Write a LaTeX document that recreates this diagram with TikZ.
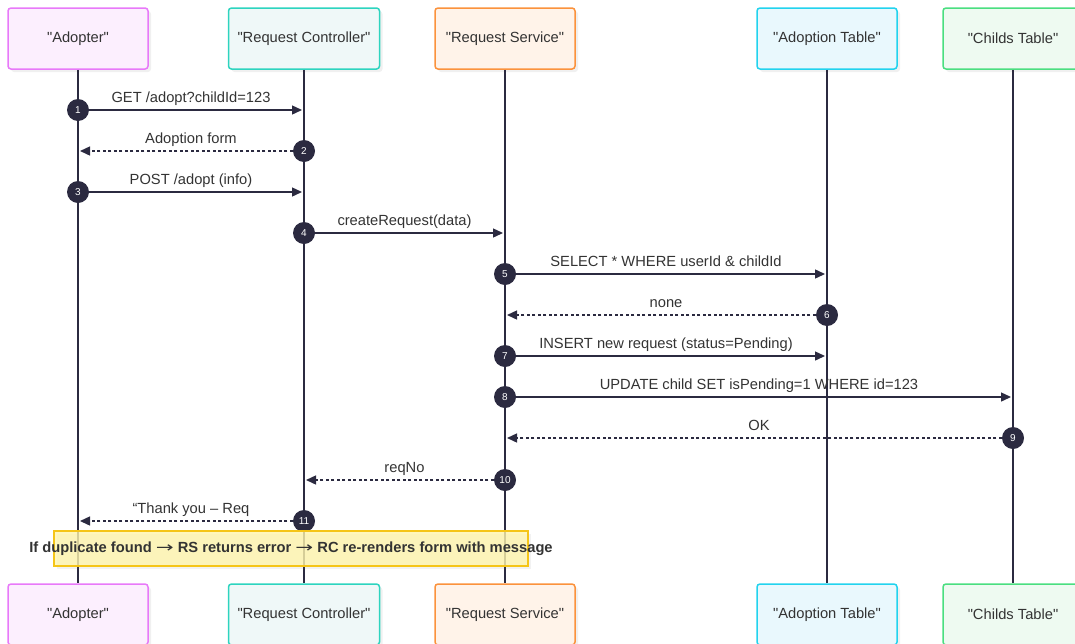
\documentclass[tikz,border=0pt]{standalone}
\usepackage{fontspec}
\setmainfont{Liberation Sans}
\newfontfamily\arrowfont{DejaVu Sans}
\usetikzlibrary{calc,arrows.meta,shadows}

\definecolor{ink}{HTML}{2B2A40}
\definecolor{txt}{HTML}{333333}
\definecolor{adDraw}{HTML}{E879F9}\definecolor{adFill}{HTML}{FCEFFE}
\definecolor{rcDraw}{HTML}{2DD4BF}\definecolor{rcFill}{HTML}{EFF8F8}
\definecolor{rsDraw}{HTML}{FB923C}\definecolor{rsFill}{HTML}{FFF3E9}
\definecolor{atDraw}{HTML}{22D3EE}\definecolor{atFill}{HTML}{E9F8FD}
\definecolor{ctDraw}{HTML}{4ADE80}\definecolor{ctFill}{HTML}{EEFAF1}
\definecolor{noteDraw}{HTML}{F5C518}\definecolor{noteFill}{HTML}{FFF5AD}

\newcommand\qname[1]{\textquotedbl#1\textquotedbl}
\newcommand\thento{\scalebox{1.45}[1.0]{\arrowfont\mdseries →}}

\tikzset{
  actor/.style={draw, rounded corners=3pt, line width=1.5pt, minimum width=140pt,
    minimum height=61pt, inner xsep=9pt, text=txt, font=\fontsize{14.7}{17}\selectfont,
    drop shadow={shadow xshift=3pt, shadow yshift=-3pt, opacity=0.12}},
  num/.style={circle, fill=ink, text=white, inner sep=0pt, minimum size=22pt,
    font=\fontsize{10}{11}\selectfont},
  msg/.style={ink, line width=1.4pt, shorten >=2pt, -{Triangle[length=10pt,width=9pt]}},
  reply/.style={msg, dash pattern=on 3pt off 2.5pt},
  lbl/.style={above=1pt, text=txt, text height=10.5pt, text depth=3pt,
    font=\fontsize{14.7}{17}\selectfont},
  life/.style={ink, line width=1.4pt}
}

\begin{document}
\begin{tikzpicture}[x=1pt,y=-1pt]
\useasboundingbox (0,0) rectangle (1075,643);

% participants
\node[actor, draw=adDraw, fill=adFill] (adT) at (78,38.5) {\qname{Adopter}};
\node[actor, draw=rcDraw, fill=rcFill] (rcT) at (304,38.5) {\qname{Request Controller}};
\node[actor, draw=rsDraw, fill=rsFill] (rsT) at (505,38.5) {\qname{Request Service}};
\node[actor, draw=atDraw, fill=atFill] (atT) at (827,38.5) {\qname{Adoption Table}};
\node[actor, draw=ctDraw, fill=ctFill] (ctT) at (1013,38.5) {\qname{Childs Table}};
\node[actor, draw=adDraw, fill=adFill] (adB) at (78,614.5) {\qname{Adopter}};
\node[actor, draw=rcDraw, fill=rcFill] (rcB) at (304,614.5) {\qname{Request Controller}};
\node[actor, draw=rsDraw, fill=rsFill] (rsB) at (505,614.5) {\qname{Request Service}};
\node[actor, draw=atDraw, fill=atFill] (atB) at (827,614.5) {\qname{Adoption Table}};
\node[actor, draw=ctDraw, fill=ctFill] (ctB) at (1013,614.5) {\qname{Childs Table}};

% lifelines
\draw[life] (adT.south) -- (adB.north);
\draw[life] (rcT.south) -- (rcB.north);
\draw[life] (rsT.south) -- (rsB.north);
\draw[life] (atT.south) -- (atB.north);
\draw[life] (ctT.south) -- (ctB.north);

% messages
\node[num] (m1) at (78,110) {1};
\coordinate (t1) at (304,110);
\draw[msg] (m1) -- (t1);
\node[lbl] at ($(m1)!.5!(t1)$) {GET /adopt?childId=123};

\node[num] (m2) at (304,151) {2};
\coordinate (t2) at (78,151);
\draw[reply] (m2) -- (t2);
\node[lbl] at ($(m2)!.5!(t2)$) {Adoption form};

\node[num] (m3) at (78,192) {3};
\coordinate (t3) at (304,192);
\draw[msg] (m3) -- (t3);
\node[lbl] at ($(m3)!.5!(t3)$) {POST /adopt (info)};

\node[num] (m4) at (304,233) {4};
\coordinate (t4) at (505,233);
\draw[msg] (m4) -- (t4);
\node[lbl] at ($(m4)!.5!(t4)$) {createRequest(data)};

\node[num] (m5) at (505,274) {5};
\coordinate (t5) at (827,274);
\draw[msg] (m5) -- (t5);
\node[lbl] at ($(m5)!.5!(t5)$) {SELECT * WHERE userId \& childId};

\node[num] (m6) at (827,315) {6};
\coordinate (t6) at (505,315);
\draw[reply] (m6) -- (t6);
\node[lbl] at ($(m6)!.5!(t6)$) {none};

\node[num] (m7) at (505,356) {7};
\coordinate (t7) at (827,356);
\draw[msg] (m7) -- (t7);
\node[lbl] at ($(m7)!.5!(t7)$) {INSERT new request (status=Pending)};

\node[num] (m8) at (505,397) {8};
\coordinate (t8) at (1013,397);
\draw[msg] (m8) -- (t8);
\node[lbl] at ($(m8)!.5!(t8)$) {UPDATE child SET isPending=1 WHERE id=123};

\node[num] (m9) at (1013,438) {9};
\coordinate (t9) at (505,438);
\draw[reply] (m9) -- (t9);
\node[lbl] at ($(m9)!.5!(t9)$) {OK};

\node[num] (m10) at (505,480) {10};
\coordinate (t10) at (304,480);
\draw[reply] (m10) -- (t10);
\node[lbl] at ($(m10)!.5!(t10)$) {reqNo};

\node[num] (m11) at (304,521) {11};
\coordinate (t11) at (78,521);
\draw[reply] (m11) -- (t11);
\node[lbl] at ($(m11)!.5!(t11)$) {“Thank you – Req};

% note
\node[draw=noteDraw, fill=noteFill, fill opacity=0.8, line width=1.2pt,
  minimum width=474pt, minimum height=35pt,
  drop shadow={shadow xshift=3pt, shadow yshift=-3pt, opacity=0.1}] (note) at (291,548.5) {};
\node[text=txt, font=\bfseries\fontsize{14.7}{17}\selectfont] at (note.center)
  {If duplicate found \thento{} RS returns error \thento{} RC re-renders form with message};
\end{tikzpicture}
\end{document}
